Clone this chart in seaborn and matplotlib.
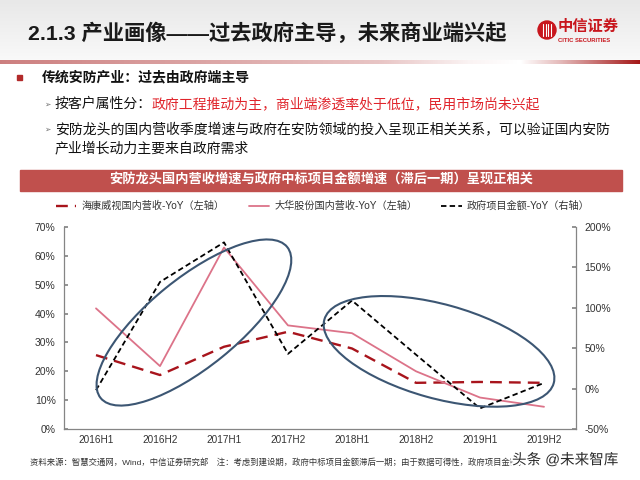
import numpy as np
import matplotlib
matplotlib.use("Agg")
import matplotlib.pyplot as plt
import matplotlib.patheffects as pe
from matplotlib.patches import Ellipse, Rectangle, Circle
from matplotlib.lines import Line2D
from matplotlib.transforms import IdentityTransform
from matplotlib.colors import to_rgb
import seaborn as sns

# data (half-year YoY, %)
periods = ['2016H1', '2016H2', '2017H1', '2017H2', '2018H1', '2018H2', '2019H1', '2019H2']
hikvision_yoy = [25.6, 18.7, 28.5, 33.7, 27.9, 16.0, 16.3, 16.0]   # left axis
dahua_yoy = [41.8, 21.8, 62.9, 35.9, 33.2, 20.0, 10.9, 7.7]        # left axis
gov_yoy = [-2.0, 132.0, 181.0, 43.0, 109.0, 42.0, -24.5, 7.0]      # right axis
left_ticks = [0, 10, 20, 30, 40, 50, 60, 70]
right_ticks = [-50, 0, 50, 100, 150, 200]

legend_labels = ['海康威视国内营收-YoY（左轴）', '大华股份国内营收-YoY（左轴）', '政府项目金额-YoY（右轴）']

title = '2.1.3 产业画像——过去政府主导，未来商业端兴起'
bullet_main = '传统安防产业：过去由政府端主导'
bullet_1a = '按客户属性分：'
bullet_1b = '政府工程推动为主，商业端渗透率处于低位，民用市场尚未兴起'
bullet_2a = '安防龙头的国内营收季度增速与政府在安防领域的投入呈现正相关关系，可以验证国内安防'
bullet_2b = '产业增长动力主要来自政府需求'
chart_title = '安防龙头国内营收增速与政府中标项目金额增速（滞后一期）呈现正相关'
footer = ('资料来源：智慧交通网，Wind，中信证券研究部　注：考虑到建设期，政府中标项目金额滞后一期；'
          '由于数据可得性，政府项目金额只')
watermark = '头条 @未来智库'

C_HIK = '#A8141C'
C_DAHUA = '#DC7389'
C_GOV = '#000000'
C_RED = '#C0504D'
C_ELL = '#3C5673'

sns.set_theme(style='white')
plt.rcParams['font.family'] = ['Liberation Sans', 'Noto Sans CJK SC', 'DejaVu Sans']

W, H = 640, 480
fig = plt.figure(figsize=(6.4, 4.8), dpi=100)


def fx(x):
    return x / W


def fy(y):
    return 1 - y / H


# ---- slide background ----
bg = fig.add_axes([0, 0, 1, 1], zorder=0)
bg.axis('off')

top = np.linspace(0, 1, 60)[:, None, None]
c0, c1 = np.array(to_rgb('#E8E8E8')), np.array(to_rgb('#F9F9F9'))
grad = (c0 * (1 - top) + c1 * top) * np.ones((1, 2, 1))
bg.imshow(grad, extent=[0, W, 60, 0], aspect='auto', interpolation='bilinear')

# red separator line under the title, fading in the middle
xs = np.arange(W)
alpha = np.interp(xs, [0, 120, 380, 470, 520, 560, 640], [0.55, 0.45, 0.25, 0.05, 0.0, 0.3, 1.0])
line_rgba = np.zeros((1, W, 4))
line_rgba[..., :3] = to_rgb('#A31515')
line_rgba[..., 3] = alpha
bg.imshow(line_rgba, extent=[0, W, 64.5, 60.5], aspect='auto', interpolation='bilinear')
bg.set_xlim(0, W)
bg.set_ylim(H, 0)

# logo
bg.add_patch(Circle((547, 30), 9, color='#C8161D'))
for dx in (-4.2, -1.4, 1.4, 4.2):
    bg.plot([547 + dx, 547 + dx], [24, 36], color='white', lw=0.8)
fig.text(fx(558), fy(27), '中信证券', fontsize=11, color='#C8161D', fontweight='bold', va='center')
fig.text(fx(558.5), fy(40), 'CITIC SECURITIES', fontsize=4.2, color='#C8161D', fontweight='bold', va='center')

# title
fig.text(fx(28), fy(33), title, fontsize=15.3, fontweight='bold', color='#1A1A1A', va='center')

# bullets
bg.add_patch(Rectangle((17, 74.5), 5, 5, color='#B22A2A'))
fig.text(fx(42), fy(77), bullet_main, fontsize=10, fontweight='bold', color='#111111', va='center')
for yy in (104, 129):
    fig.text(fx(44), fy(yy), '➢', fontsize=5.5, color='#6E6E6E', va='center',
             family=['DejaVu Sans'])
fig.text(fx(55), fy(104), bullet_1a, fontsize=10, color='#111111', va='center')
fig.text(fx(152), fy(104), bullet_1b, fontsize=10, color='#E0242B', va='center')
fig.text(fx(55), fy(129), bullet_2a, fontsize=10, color='#111111', va='center')
fig.text(fx(55), fy(148), bullet_2b, fontsize=10, color='#111111', va='center')

# chart title bar
bg.add_patch(Rectangle((20, 170), 602, 21, color=C_RED))
fig.text(fx(321), fy(180.5), chart_title, fontsize=9.5, fontweight='bold', color='white',
         ha='center', va='center')

# ---- chart ----
ax = fig.add_axes([fx(64), fy(429), 512 / W, (429 - 227) / H], zorder=2)
ax.patch.set_alpha(0)
sns.lineplot(x=periods, y=hikvision_yoy, ax=ax, color=C_HIK, lw=1.7)
sns.lineplot(x=periods, y=dahua_yoy, ax=ax, color=C_DAHUA, lw=1.3)
ax.lines[0].set_dashes([5, 3])
ax.set_ylim(0, 70)
ax.set_yticks(left_ticks)
ax.set_yticklabels([f'{v}%' for v in left_ticks])

ax2 = ax.twinx()
sns.lineplot(x=periods, y=gov_yoy, ax=ax2, color=C_GOV, lw=1.3)
ax2.lines[0].set_dashes([3, 1.8])
ax2.set_ylim(-50, 200)
ax2.set_yticks(right_ticks)
ax2.set_yticklabels([f'{v}%' for v in right_ticks])
ax.set_xlim(-0.5, len(periods) - 0.5)

for a in (ax, ax2):
    a.set_xlabel('')
    a.set_ylabel('')
    a.grid(False)
    for s in a.spines.values():
        s.set_color('#858585')
        s.set_linewidth(0.9)
    a.spines['top'].set_visible(False)
ax.spines['right'].set_visible(False)
ax2.spines['left'].set_visible(False)
ax2.spines['bottom'].set_visible(False)

ax.tick_params(axis='y', direction='in', length=3, color='#858585', labelsize=7.5,
               labelcolor='#333333', pad=6, left=True)
ax2.tick_params(axis='y', direction='in', length=3, color='#858585', labelsize=7.5,
                labelcolor='#333333', pad=6, right=True)
ax.tick_params(axis='x', length=0, labelsize=7.2, labelcolor='#333333', pad=4)

# highlight ellipses (center in data units, size in pixels)
for (cx, cy, w, h, ang) in [(1.53, 36.9, 240, 89, 39), (5.36, 26.9, 238, 94, -15.5)]:
    px, py = ax.transData.transform((cx, cy))
    ell = Ellipse((px, py), w, h, angle=ang, transform=IdentityTransform(),
                  fill=False, ec=C_ELL, lw=1.5, zorder=6)
    ax2.add_artist(ell)

# legend
handles = [Line2D([], [], color=C_HIK, lw=1.7, dashes=[5, 3]),
           Line2D([], [], color=C_DAHUA, lw=1.3),
           Line2D([], [], color=C_GOV, lw=1.3, dashes=[3, 1.8])]
fig.legend(handles, legend_labels, loc='center left', bbox_to_anchor=(fx(47), fy(206)),
           ncol=3, frameon=False, fontsize=7.3, handlelength=2.0, handletextpad=0.5,
           columnspacing=2.4, labelcolor='#333333')

# footer + watermark
fig.text(fx(30), fy(462), footer, fontsize=6, color='#333333', va='center')
fig.text(fx(512), fy(460), watermark, fontsize=10.5, color='#2A2A2A', va='center',
         path_effects=[pe.withStroke(linewidth=3, foreground='white')])

fig.savefig('out.png', dpi=100)
